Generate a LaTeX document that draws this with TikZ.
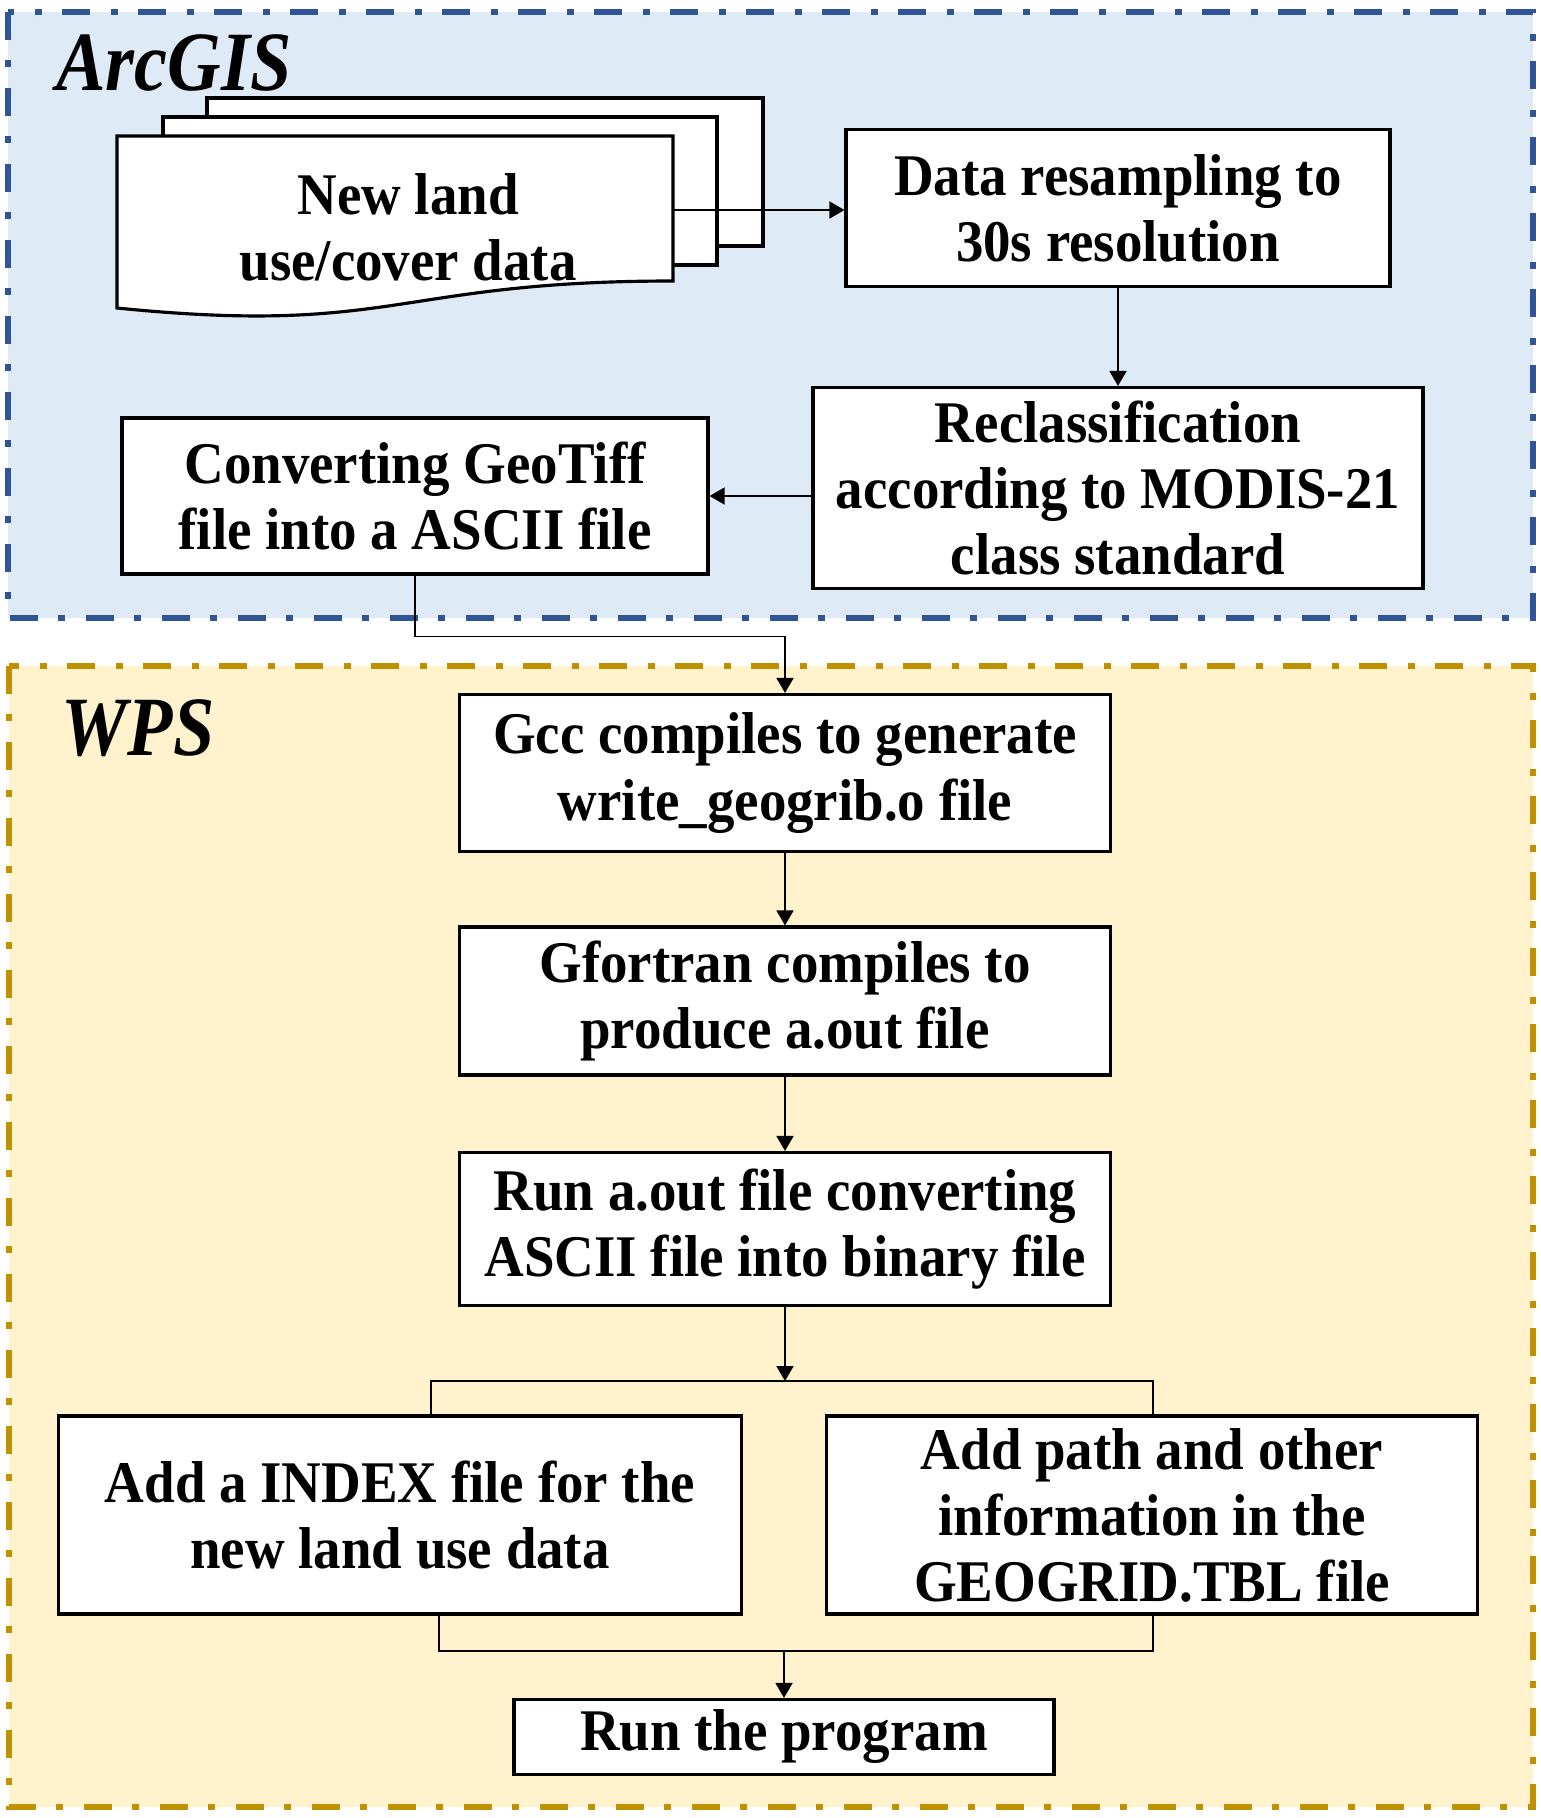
\documentclass[tikz,border=0pt]{standalone}
\usepackage{fontspec}
\setmainfont{Liberation Serif}[FakeStretch=0.93]
\newfontfamily\titlefont{Liberation Serif}[FakeStretch=0.88]
\usepackage{tikz}
\usetikzlibrary{arrows.meta}
\definecolor{arcblue}{HTML}{2F5597}
\definecolor{arcfill}{HTML}{DEEBF7}
\definecolor{wpsgold}{HTML}{BF9000}
\definecolor{wpsfill}{HTML}{FFF2CC}
\tikzset{
  frame/.style={line width=1.8pt, dash pattern=on 0.28cm off 0.2cm on 0.07cm off 0.21cm},
  box/.style={draw=black, fill=white, line width=0.9pt, align=center, inner sep=0pt,
    font=\fontsize{16.8}{18.8}\selectfont\bfseries},
  sheet/.style={draw=black, fill=white, line width=0.9pt},
  link/.style={line width=0.5pt},
  arr/.style={link, -{Triangle[length=1.5mm,width=1.7mm]}},
  title/.style={anchor=base, font=\titlefont\fontsize{24}{24}\selectfont\bfseries\itshape}
}

\begin{document}
\begin{tikzpicture}
    \useasboundingbox (0,0) rectangle (15.41,-18.18);

    \draw[frame, draw=arcblue, fill=arcfill] (0.08,-0.12) rectangle (15.33,-6.18);
    \draw[frame, draw=wpsgold, fill=wpsfill] (0.09,-6.66) rectangle (15.33,-18.07);

    \node[title] (arcgis) at (1.74,-0.90) {ArcGIS};
    \node[title] (wps) at (1.38,-7.55) {WPS};

    \draw[sheet] (2.07,-0.98) rectangle (7.63,-2.46);
    \draw[sheet] (1.63,-1.17) rectangle (7.17,-2.65);
    \draw[sheet] (1.17,-1.36) -- (6.73,-1.36) -- (6.73,-2.81)
        .. controls (3.95,-2.81) and (3.95,-3.36) .. (1.17,-3.08) -- cycle;
    \node[box, draw=none, fill=none] (newland) at (4.08,-2.27) {New land\\use/cover data};
    \coordinate (doc) at (6.73,-2.10);

    \node[box, minimum width=5.44cm, minimum height=1.57cm] (resample) at (11.18,-2.08) {Data resampling to\\30s resolution};
    \node[box, minimum width=6.10cm, minimum height=2.01cm] (reclass) at (11.18,-4.88) {Reclassification\\according to MODIS-21\\class standard};
    \node[box, minimum width=5.86cm, minimum height=1.56cm] (convert) at (4.15,-4.96) {Converting GeoTiff\\file into a ASCII file};

    \node[box, minimum width=6.51cm, minimum height=1.57cm] (gcc) at (7.85,-7.73) {Gcc compiles to generate\\write\_geogrib.o file};
    \node[box, minimum width=6.51cm, minimum height=1.48cm] (gfortran) at (7.85,-10.01) {Gfortran compiles to\\produce a.out file};
    \node[box, minimum width=6.51cm, minimum height=1.53cm] (aout) at (7.85,-12.29) {Run a.out file converting\\ASCII file into binary file};
    \node[box, minimum width=6.83cm, minimum height=1.98cm] (index) at (4.00,-15.15) {Add a INDEX file for the\\new land use data};
    \node[box, minimum width=6.51cm, minimum height=1.98cm] (addpath) at (11.52,-15.15) {Add path and other\\information in the\\GEOGRID.TBL file};
    \node[box, minimum width=5.40cm, minimum height=0.75cm] (run) at (7.84,-17.37) {Run the program};

    \coordinate (split) at (7.85,-13.81);
    \coordinate (topL) at (4.31,-13.81);
    \coordinate (topR) at (11.53,-13.81);
    \coordinate (botL) at (4.39,-16.51);
    \coordinate (botR) at (11.53,-16.51);

    \draw[arr] (doc) -- (doc -| resample.west);
    \draw[arr] (resample.south) -- (reclass.north);
    \draw[arr] (reclass.west |- convert) -- (convert.east);
    \draw[arr] (convert.south) -- ++(0,-0.61) -| (gcc.north);
    \draw[arr] (gcc.south) -- (gfortran.north);
    \draw[arr] (gfortran.south) -- (aout.north);
    \draw[arr] (aout.south) -- (split);
    \draw[link] (index.north -| topL) -- (topL) -- (topR) -- (addpath.north -| topR);
    \draw[link] (index.south -| botL) -- (botL) -- (botR) -- (addpath.south -| botR);
    \draw[arr] (run.north |- botL) -- (run.north);
\end{tikzpicture}
\end{document}
